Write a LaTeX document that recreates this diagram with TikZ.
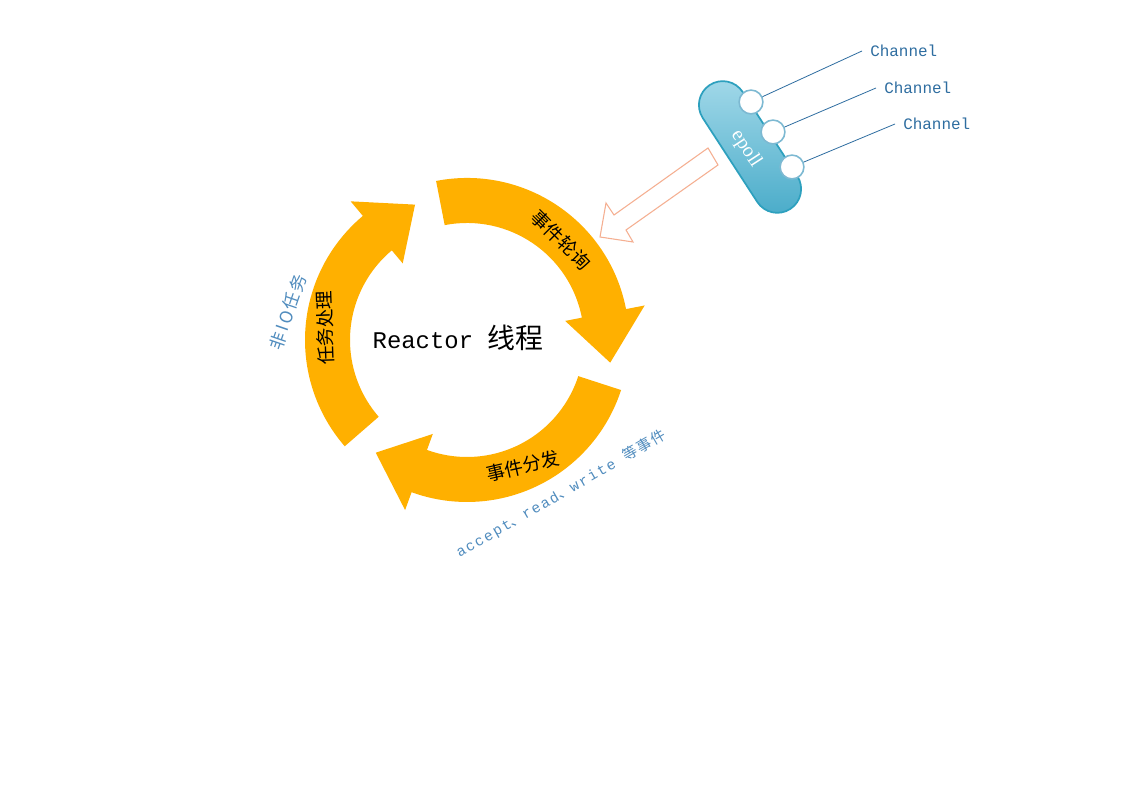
\documentclass[tikz,border=0pt]{standalone}
\usepackage{fontspec}
\setmainfont{Liberation Mono}
\newfontfamily\zhfont{Noto Sans CJK SC}
\newfontfamily\zhwide{Noto Sans CJK SC}[LetterSpace=12]
\newfontfamily\monowide{Liberation Mono}[LetterSpace=12]
\newfontfamily\serifface{Liberation Serif}
\usetikzlibrary{calc,positioning}
\definecolor{loopgold}{RGB}{255,176,0}
\definecolor{chanblue}{RGB}{46,109,160}
\definecolor{noteblue}{RGB}{80,140,190}
\definecolor{portblue}{RGB}{125,185,210}
\definecolor{epolltop}{RGB}{165,218,234}
\definecolor{epollbot}{RGB}{70,170,200}
\definecolor{epollrim}{RGB}{45,160,190}
\definecolor{feedpeach}{RGB}{245,175,145}

\begin{document}
\begin{tikzpicture}[x=0.2645mm, y=0.2645mm,
    looparc/.style={fill=loopgold, draw=none},
    looptext/.style={font=\zhfont\fontsize{14}{14}\selectfont, text=black, inner sep=1pt},
    notetext/.style={text=noteblue, inner sep=1pt},
    chanlabel/.style={font=\fontsize{12}{12}\selectfont, text=chanblue, anchor=west, inner xsep=6pt, inner ysep=1pt},
    chanport/.style={circle, draw=portblue, line width=1.2pt, fill=white, minimum size=6.3mm, inner sep=0pt},
    chanline/.style={draw=chanblue, line width=0.6pt},
    epollbox/.style={rounded corners=6.3mm, minimum width=39.1mm, minimum height=12.6mm, draw=epollrim, line width=1.3pt, top color=epolltop, bottom color=epollbot}
  ]
  \useasboundingbox (0,0) rectangle (1123,794);
  \fill[white] (0,0) rectangle (1123,794);

  % Reactor loop
  \coordinate (hub) at (467,454);
  \begin{scope}[shift={(hub)}]
    \foreach \tail/\base/\tip in {101/11/-9, -18/-110/-129, -139/-230/-249}
      \fill[looparc] (\tail:162) arc[start angle=\tail, end angle=\base, radius=162]
        -- (\base:181) -- (\tip:145) -- (\base:100) -- (\base:117)
        arc[start angle=\base, end angle=\tail, radius=117] -- cycle;
  \end{scope}

  \node (title) at (458,456) {\fontsize{18}{18}\selectfont Reactor {\zhfont\fontsize{21}{21}\selectfont 线程}};
  \node[looptext, rotate=-45] (poll) at (561,554) {事件轮询};
  \node[looptext, rotate=13] (dispatch) at (523,328) {事件分发};
  \node[looptext, rotate=92] (work) at (325,466) {任务处理};

  % side notes
  \node[notetext, rotate=71, font=\zhwide\fontsize{13}{13}\selectfont] (nonio) at (288,482) {非IO任务};
  \node[notetext, rotate=30, font=\fontsize{11}{11}\selectfont] (events) at (561,300)
    {{\monowide accept}{\zhwide 、}{\monowide read}{\zhwide 、}{\monowide write }{\zhwide 等事件}};

  % hollow arrow from epoll
  \draw[feedpeach, line width=0.8pt] (708,646) -- (718,629) -- (626,564) -- (633,552)
    -- (600,557) -- (606,591) -- (614,579) -- cycle;

  % epoll with channels
  \node[epollbox, rotate=-57] (epoll) at (750,647) {};
  \node[rotate=-57, text=white, font=\serifface\fontsize{15}{15}\selectfont] (epolltxt) at (746,645) {epoll};
  \node[chanport] (port1) at (751,692) {};
  \node[chanport] (port2) at (773,662) {};
  \node[chanport] (port3) at (792,627) {};
  \node[chanlabel] (chan1) at (862,743) {Channel};
  \node[chanlabel] (chan2) at (876,706) {Channel};
  \node[chanlabel] (chan3) at (895,670) {Channel};
  \draw[chanline] (port1) -- (chan1.west);
  \draw[chanline] (port2) -- (chan2.west);
  \draw[chanline] (port3) -- (chan3.west);
\end{tikzpicture}
\end{document}
